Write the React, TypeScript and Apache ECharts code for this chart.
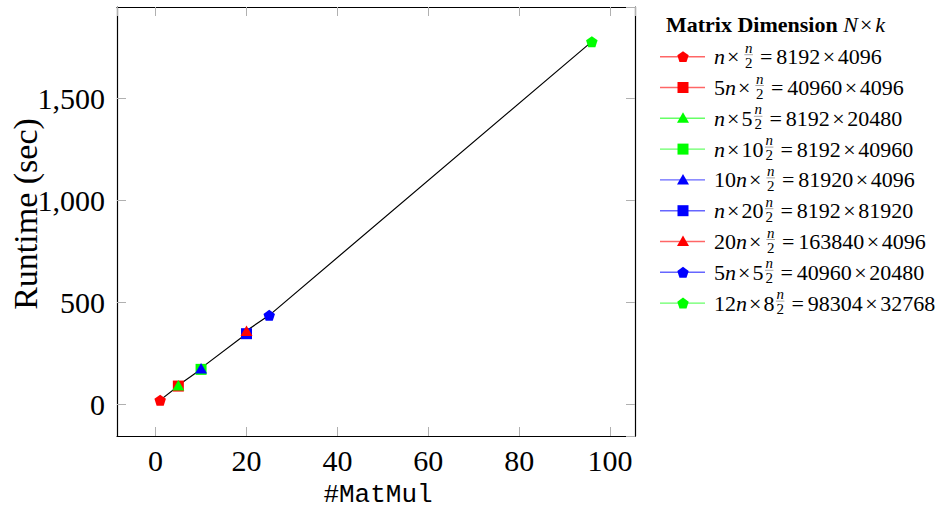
import React, { useEffect, useRef } from "react";
import * as echarts from "echarts";

// ---------- data ----------
const matmulCounts = [1, 5, 5, 10, 10, 20, 20, 25, 96];
const runtimesSec = [19, 88, 92, 170, 176, 345, 360, 435, 1778];
const seriesColors = ["#ff0000", "#ff0000", "#00ff00", "#00ff00", "#0000ff", "#0000ff", "#ff0000", "#0000ff", "#00ff00"];
const seriesMarkers = ["pentagon", "square", "triangle", "square", "triangle", "square", "triangle", "pentagon", "pentagon"];
const seriesNames = [
  "n×n/2 = 8192×4096",
  "5n×n/2 = 40960×4096",
  "n×5n/2 = 8192×20480",
  "n×10n/2 = 8192×40960",
  "10n×n/2 = 81920×4096",
  "n×20n/2 = 8192×81920",
  "20n×n/2 = 163840×4096",
  "5n×5n/2 = 40960×20480",
  "12n×8n/2 = 98304×32768",
];
// legend label pieces: coefficient before n, coefficient before n/2, N, k
const legendRowCoef = ["", "5", "", "", "10", "", "20", "5", "12"];
const legendColCoef = ["", "", "5", "10", "", "20", "", "5", "8"];
const legendN = ["8192", "40960", "8192", "8192", "81920", "8192", "163840", "40960", "98304"];
const legendK = ["4096", "4096", "20480", "40960", "4096", "81920", "4096", "20480", "32768"];
const xTickStep = 20;
const yTickStep = 500;

const SERIF = '"Liberation Serif", "Times New Roman", serif';
const PENTAGON = "path://M0,-1L0.951,-0.309L0.588,0.809L-0.588,0.809L-0.951,-0.309Z";

function symbolFor(m: string) {
  if (m === "pentagon") return { symbol: PENTAGON, size: [11.5, 11] };
  if (m === "square") return { symbol: "rect", size: [11, 11] };
  return { symbol: "triangle", size: [12, 10.5] };
}

function makeMeasure() {
  const c = document.createElement("canvas").getContext("2d") as CanvasRenderingContext2D;
  return (t: string, font: string) => {
    c.font = font;
    return c.measureText(t).width;
  };
}

function buildLegend(): any[] {
  const measure = makeMeasure();
  const els: any[] = [];
  const F = 22;
  const FS = 15;
  const up = `${F}px ${SERIF}`;
  const it = `italic ${F}px ${SERIF}`;
  const itS = `italic ${FS}px ${SERIF}`;
  const upS = `${FS}px ${SERIF}`;

  // title
  const tx = 666;
  const ty = 24.5;
  const bold = `bold ${F}px ${SERIF}`;
  const t1 = "Matrix Dimension ";
  els.push({ type: "text", x: tx, y: ty, style: { text: t1, font: bold, fill: "#000", align: "left", verticalAlign: "middle" } });
  let cx = tx + measure(t1, bold);
  els.push({ type: "text", x: cx, y: ty, style: { text: "N", font: it, fill: "#000", align: "left", verticalAlign: "middle" } });
  cx += measure("N", it) + 2;
  els.push({ type: "text", x: cx, y: ty, style: { text: "×", font: up, fill: "#000", align: "left", verticalAlign: "middle" } });
  cx += measure("×", up) + 3;
  els.push({ type: "text", x: cx, y: ty, style: { text: "k", font: it, fill: "#000", align: "left", verticalAlign: "middle" } });

  for (let i = 0; i < seriesNames.length; i++) {
    const ry = 56.7 + 30.8 * i;
    const color = seriesColors[i];
    els.push({ type: "line", shape: { x1: 660, y1: ry, x2: 705, y2: ry }, style: { stroke: color, lineWidth: 1.4, opacity: 0.6 } });
    const mk = seriesMarkers[i];
    const mx = 683;
    if (mk === "square") {
      els.push({ type: "rect", shape: { x: mx - 5.5, y: ry - 5.5, width: 11, height: 11 }, style: { fill: color } });
    } else if (mk === "triangle") {
      els.push({ type: "polygon", shape: { points: [[mx, ry - 6], [mx + 6, ry + 4.5], [mx - 6, ry + 4.5]] }, style: { fill: color } });
    } else {
      const r = 6;
      const pts = [0, 1, 2, 3, 4].map((k) => {
        const a = -Math.PI / 2 + (k * 2 * Math.PI) / 5;
        return [mx + r * Math.cos(a), ry + 0.5 + r * Math.sin(a)];
      });
      els.push({ type: "polygon", shape: { points: pts }, style: { fill: color } });
    }

    let x = 714;
    const push = (text: string, font: string, y: number) => {
      els.push({ type: "text", x, y, style: { text, font, fill: "#000", align: "left", verticalAlign: "middle" } });
      x += measure(text, font);
    };
    const ty2 = ry;
    if (legendRowCoef[i]) push(legendRowCoef[i], up, ty2);
    push("n", it, ty2);
    x += 2;
    push("×", up, ty2);
    if (legendColCoef[i]) {
      x += 2;
      push(legendColCoef[i], up, ty2);
      x += 1.5;
    } else {
      x += 5;
    }
    // fraction n/2
    const wn = measure("n", itS);
    const w2 = measure("2", upS);
    const fw = Math.max(wn, w2) + 1;
    const fx = x;
    els.push({ type: "text", x: fx + fw / 2, y: ty2 - 9, style: { text: "n", font: itS, fill: "#000", align: "center", verticalAlign: "middle" } });
    els.push({ type: "line", shape: { x1: fx, y1: ty2 - 2, x2: fx + fw, y2: ty2 - 2 }, style: { stroke: "#000", lineWidth: 0.6, opacity: 0.6 } });
    els.push({ type: "text", x: fx + fw / 2, y: ty2 + 6, style: { text: "2", font: upS, fill: "#000", align: "center", verticalAlign: "middle" } });
    x += fw + 7;
    push("=", up, ty2);
    x += 4;
    push(legendN[i], up, ty2);
    x += 2.5;
    push("×", up, ty2);
    x += 2.5;
    push(legendK[i], up, ty2);
  }
  return els;
}

export default function App() {
  const ref = useRef<HTMLDivElement>(null);
  useEffect(() => {
    document.body.style.margin = "0";
    if (!ref.current) return;
    const chart = echarts.init(ref.current, null, { renderer: "svg" });

    const points = matmulCounts.map((x, i) => [x, runtimesSec[i]]);
    const sorted = [...points].sort((a, b) => a[0] - b[0] || a[1] - b[1]);

    const frame = { show: true, onZero: false, lineStyle: { color: "#000", width: 1.2 } };
    const tick = { show: true, inside: true, length: 9, lineStyle: { color: "#b0b0b0", width: 1 } };

    const xLabel = {
      fontFamily: SERIF,
      fontSize: 30,
      color: "#000",
      margin: 9,
      showMinLabel: false,
      showMaxLabel: false,
      formatter: (v: number) => (Math.abs(v % xTickStep) < 1e-9 ? String(v) : ""),
    };
    const yLabel = {
      fontFamily: SERIF,
      fontSize: 30,
      color: "#000",
      margin: 12,
      showMinLabel: false,
      showMaxLabel: false,
      formatter: (v: number) => (Math.abs(v % yTickStep) < 1e-9 ? v.toLocaleString("en-US") : ""),
    };

    const yMin = -157;
    const yMax = 1948;

    const option: any = {
      animation: false,
      grid: { left: 117, right: 304, top: 7, bottom: 79, containLabel: false },
      xAxis: [
        { type: "value", min: -8.5, max: 105.5, splitNumber: 5, position: "bottom", axisLine: frame, axisTick: tick, axisLabel: xLabel, splitLine: { show: false } },
        { type: "value", min: -8.5, max: 105.5, splitNumber: 5, position: "top", axisLine: frame, axisTick: tick, axisLabel: { show: false }, splitLine: { show: false } },
      ],
      yAxis: [
        { type: "value", min: yMin, max: yMax, splitNumber: 5, position: "left", axisLine: frame, axisTick: tick, axisLabel: yLabel, splitLine: { show: false } },
        { type: "value", min: yMin, max: yMax, splitNumber: 5, position: "right", axisLine: frame, axisTick: tick, axisLabel: { show: false }, splitLine: { show: false } },
      ],
      series: [
        {
          type: "line",
          name: "trend",
          data: sorted,
          symbol: "none",
          lineStyle: { color: "#000", width: 1.2 },
          z: 2,
          silent: true,
        },
        ...points.map((p, i) => {
          const s = symbolFor(seriesMarkers[i]);
          return {
            type: "scatter",
            name: seriesNames[i],
            data: [p],
            symbol: s.symbol,
            symbolSize: s.size,
            itemStyle: { color: seriesColors[i], opacity: 1 },
            z: 3 + i,
          };
        }),
      ],
      graphic: [
        {
          type: "text",
          x: 25,
          y: 214,
          rotation: Math.PI / 2,
          style: { text: "Runtime (sec)", font: `34px ${SERIF}`, fill: "#000", align: "center", verticalAlign: "middle" },
        },
        {
          type: "text",
          x: 378,
          y: 495,
          style: { text: "#MatMul", font: `26px "Liberation Mono", "DejaVu Sans Mono", monospace`, fill: "#000", align: "center", verticalAlign: "middle" },
        },
        ...buildLegend(),
      ],
    };
    chart.setOption(option);
    return () => chart.dispose();
  }, []);
  return <div ref={ref} style={{ width: 939, height: 515 }} />;
}
